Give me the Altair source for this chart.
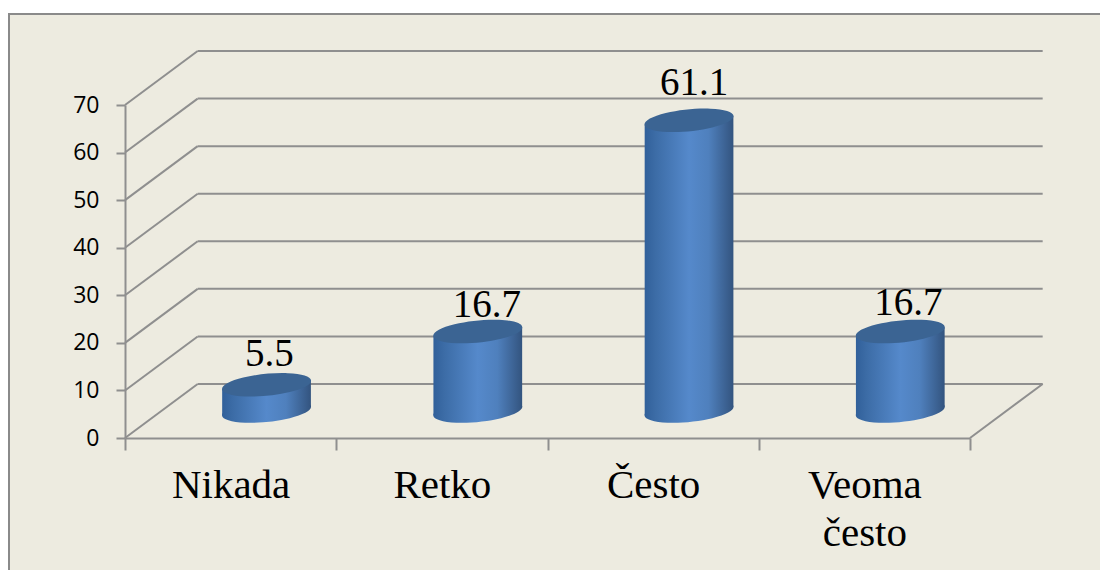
import altair as alt
import pandas as pd

categories = ["Nikada", "Retko", "Često", "Veoma često"]
values = [5.5, 16.7, 61.1, 16.7]
labels = ["5.5", "16.7", "61.1", "16.7"]
y_ticks = [0, 10, 20, 30, 40, 50, 60, 70]
slots = [0, 1, 2, 3]

# scale-space geometry of the pseudo-3D box
DEPTH_X, DEPTH_Y = 0.344, 11.35
BASE = 5.68          # cylinder base height above the front floor line
CENTER = 0.67        # cylinder centre inside a category slot
HALF_W = 0.21        # half cylinder width
TILT = 0.9           # rise of the ellipse across the cylinder
LABEL_DX = [0.014, 0.043, 0.024, 0.038]   # label nudges, in scale units
LABEL_DY = [6.5, 5.5, 7.8, 5.9]

GRID = "#8f8f8f"
CAP = "#3b6493"
stops = [(0, "#31609a"), (0.12, "#3c6ca6"), (0.5, "#5589cb"), (0.72, "#4f80bd"), (1, "#33547f")]
grad = alt.Gradient(gradient="linear", x1=0, x2=1, y1=0, y2=0,
                    stops=[alt.GradientStop(offset=o, color=c) for o, c in stops])
ELLIPSE = "M-1,0.1 A1.005,0.245,-5.7,1,1,1,-0.1 A1.005,0.245,-5.7,1,1,-1,0.1 Z"
CAP_SIZE = 7921

y_axis_spec = alt.Axis(
    values=y_ticks, title=None, grid=False, zindex=1, domainColor=GRID, domainWidth=2, tickColor=GRID,
    tickWidth=2, tickSize=9, labelFont="Open Sans", labelFontSize=23, labelColor="black", labelPadding=17)

xs = alt.Scale(domain=[0, 4], nice=False, zero=False)
ys = alt.Scale(domain=[0, 70], nice=False, zero=False)
X = lambda f: alt.X(f"{f}:Q", scale=xs, axis=None)
Y = lambda f: alt.Y(f"{f}:Q", scale=ys, axis=y_axis_spec)

back = pd.DataFrame({"x": 0.0, "x2": 4 + DEPTH_X, "v": y_ticks})
back["x"] = DEPTH_X
back["y"] = back["v"] + DEPTH_Y
diag = pd.DataFrame({"x": 0.0, "x2": DEPTH_X, "y": y_ticks})
diag["y2"] = diag["y"] + DEPTH_Y
diag = pd.concat([diag, pd.DataFrame({"x": [4.0], "x2": [4 + DEPTH_X], "y": [0.0], "y2": [DEPTH_Y]})])

tops = pd.DataFrame({"slot": slots, "v": values, "label": labels})
tops["cx"] = tops["slot"] + CENTER
tops["base"] = BASE
tops["top"] = tops["v"] + BASE
tops["lx"] = tops["cx"] + LABEL_DX
tops["ly"] = tops["top"] + LABEL_DY

rows = []
for s, v in zip(slots, values):
    for side in (-1, 1):
        rows.append({"slot": s, "x": s + CENTER + side * HALF_W,
                     "y": v + BASE + side * TILT, "y2": BASE + side * TILT})
body = pd.DataFrame(rows)

frame = alt.Chart(pd.DataFrame({"a": [0]})).mark_rect(
    fill="#edebe0", stroke="#8a8a8a", strokeWidth=2
).encode(x=alt.value(-116), x2=alt.value(1100), y=alt.value(-91), y2=alt.value(600))

back_lines = alt.Chart(back).mark_rule(color=GRID, strokeWidth=2).encode(x=X("x"), x2="x2:Q", y=Y("y"))
diag_lines = alt.Chart(diag).mark_rule(color=GRID, strokeWidth=2).encode(x=X("x"), x2="x2:Q", y=Y("y"), y2="y2:Q")

base_caps = alt.Chart(tops).mark_point(shape=ELLIPSE, size=CAP_SIZE, filled=True, opacity=1, fill=grad, strokeWidth=0).encode(
    x=X("cx"), y=Y("base"))
bodies = alt.Chart(body).mark_area(fill=grad, opacity=1).encode(
    x=X("x"), y=Y("y"), y2="y2:Q", detail="slot:N")
top_caps = alt.Chart(tops).mark_point(shape=ELLIPSE, size=CAP_SIZE, filled=True, opacity=1, fill=CAP, strokeWidth=0).encode(
    x=X("cx"), y=Y("top"))
value_text = alt.Chart(tops).mark_text(font="Liberation Serif", fontSize=39, color="black").encode(
    x=X("lx"), y=Y("ly"), text="label:N")

x_axis = alt.Chart(pd.DataFrame({"c": categories})).mark_rule(opacity=0).encode(
    x=alt.X("c:N", sort=categories, scale=alt.Scale(type="band", paddingInner=0, paddingOuter=0), axis=alt.Axis(
        title=None, grid=False, zindex=1, tickBand="extent", domainColor=GRID, domainWidth=2, tickColor=GRID,
        tickWidth=2, tickSize=12, labelAngle=0, labelFont="Liberation Serif", labelFontSize=41, labelColor="black",
        labelPadding=15, labelLineHeight=48, labelBaseline="top", labelLimit=400,
        labelExpr="datum.value == 'Veoma često' ? ['Veoma', 'često'] : datum.label")))

chart = alt.layer(frame, back_lines, diag_lines, base_caps, bodies, top_caps, value_text, x_axis).resolve_scale(
    x="independent"
).properties(
    width=845, height=333,
    autosize=alt.AutoSizeParams(type="none"),
    padding={"left": 117, "top": 97, "right": 130, "bottom": 132},
    background="white",
).configure_view(stroke=None)

chart.save("out.html", embed_options={"renderer": "svg", "actions": False})
